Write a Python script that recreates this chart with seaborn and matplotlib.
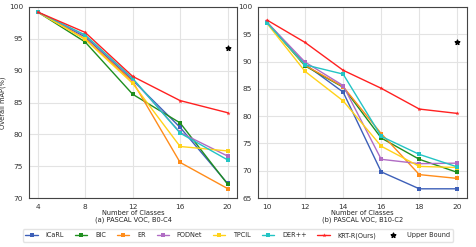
import pandas as pd
import matplotlib
matplotlib.use('Agg')
import matplotlib.pyplot as plt
import seaborn as sns

methods = ['iCaRL', 'BIC', 'ER', 'PODNet', 'TPCIL', 'DER++', 'KRT-R(Ours)']
colors = ['#3d5fb8', '#1f8f1f', '#ff8c1a', '#b06cc4', '#ffd21a', '#22c4c4', '#ff2020']

# (a) PASCAL VOC, B0-C4
classes_a = [4, 8, 12, 16, 20]
map_a = {
    'iCaRL':       [99.2, 95.3, 88.5, 81.1, 72.3],
    'BIC':         [99.2, 94.5, 86.3, 81.8, 72.2],
    'ER':          [99.2, 95.0, 88.3, 75.6, 71.5],
    'PODNet':      [99.2, 95.5, 88.7, 80.3, 76.6],
    'TPCIL':       [99.2, 94.9, 88.0, 78.1, 77.4],
    'DER++':       [99.2, 95.6, 88.8, 80.2, 76.0],
    'KRT-R(Ours)': [99.2, 96.0, 89.1, 85.3, 83.4],
}
upper_a = 93.5

# (b) PASCAL VOC, B10-C2
classes_b = [10, 12, 14, 16, 18, 20]
map_b = {
    'iCaRL':       [97.2, 89.5, 84.4, 69.8, 66.7, 66.7],
    'BIC':         [97.2, 89.2, 85.3, 76.0, 72.1, 69.7],
    'ER':          [97.2, 89.3, 85.4, 76.8, 69.3, 68.6],
    'PODNet':      [97.2, 89.9, 85.6, 72.1, 71.3, 71.4],
    'TPCIL':       [97.0, 88.2, 82.8, 74.5, 70.8, 70.6],
    'DER++':       [97.1, 89.4, 87.7, 76.3, 73.0, 70.7],
    'KRT-R(Ours)': [97.6, 93.5, 88.4, 85.1, 81.3, 80.5],
}
upper_b = 93.5


def to_long(classes, data):
    rows = []
    for m in methods:
        for c, v in zip(classes, data[m]):
            rows.append({'classes': c, 'mAP': v, 'method': m})
    return pd.DataFrame(rows)


sns.set_style('whitegrid', {'axes.edgecolor': '#444444', 'grid.color': '#e3e3e3'})
plt.rcParams['font.family'] = ['DejaVu Sans']
fs_tick = 5.3
fs_lab = 4.8

fig = plt.figure(figsize=(4.76, 2.47), dpi=100)
ax1 = fig.add_axes([0.061, 0.198, 0.437, 0.774])
ax2 = fig.add_axes([0.542, 0.198, 0.439, 0.774])

palette = dict(zip(methods, colors))
markers = {m: 's' for m in methods}
markers['KRT-R(Ours)'] = '*'

for ax, classes, data, up, xlab in [
    (ax1, classes_a, map_a, upper_a, 'Number of Classes\n(a) PASCAL VOC, B0-C4'),
    (ax2, classes_b, map_b, upper_b, 'Number of Classes\n(b) PASCAL VOC, B10-C2'),
]:
    df = to_long(classes, data)
    sns.lineplot(data=df, x='classes', y='mAP', hue='method', style='method',
                 palette=palette, markers=markers, dashes=False, markersize=3.2,
                 markeredgewidth=0, linewidth=1.0, ax=ax, legend=(ax is ax1))
    ax.scatter([classes[-1]], [up], marker='*', color='black', s=12, zorder=5,
               label='Upper Bound')
    ax.set_xticks(classes)
    ax.set_xlabel(xlab, fontsize=fs_lab, labelpad=0.3, color='#222222', linespacing=1.0)
    ax.tick_params(labelsize=fs_tick, pad=0.8, colors='#333333')
    for s in ax.spines.values():
        s.set_linewidth(0.8)

ax1.set_xlim(3.27, 20.8)
ax1.set_ylim(70, 100)
ax1.set_ylabel('Overall mAP(%)', fontsize=fs_lab, labelpad=2, color='#222222')
ax2.set_xlim(9.53, 20.5)
ax2.set_ylim(65, 100)
ax2.set_ylabel('')

handles, labels = ax1.get_legend_handles_labels()
ax1.get_legend().remove()
fig.legend(handles, labels, loc='center', bbox_to_anchor=(0.5, 0.047), ncol=8,
           fontsize=4.7, frameon=True, handlelength=1.9, columnspacing=1.65,
           handletextpad=1.2, borderpad=0.45, edgecolor='#dddddd')

fig.savefig('out.png', dpi=100)
